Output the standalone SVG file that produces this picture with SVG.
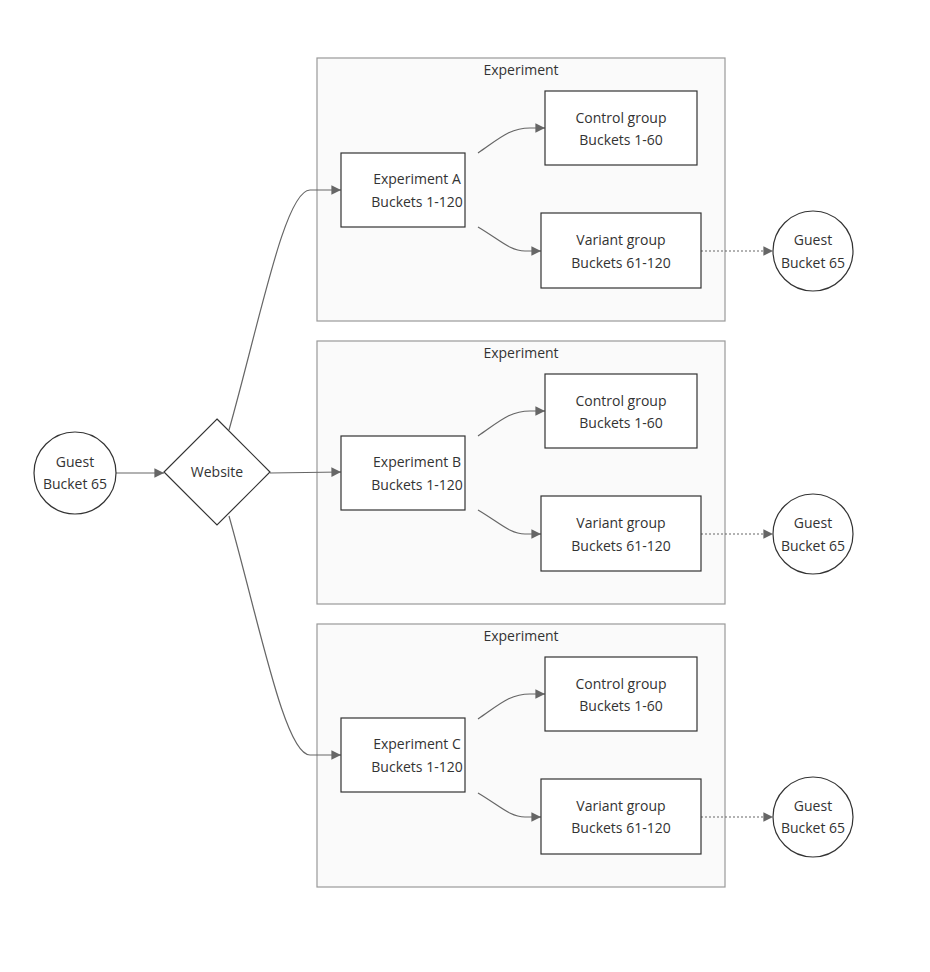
<svg xmlns="http://www.w3.org/2000/svg" width="930" height="972" viewBox="0 0 930 972">
<style>
text{font-family:"Open Sans","DejaVu Sans",sans-serif;font-size:14px;fill:#333;text-anchor:middle}
.cl{fill:#fafafa;stroke:#999;stroke-width:1.2}
.n{fill:#fff;stroke:#333;stroke-width:1.2}
.e{fill:none;stroke:#666;stroke-width:1.2;marker-end:url(#a)}
.d{stroke-dasharray:2,2}
</style>
<defs>
<marker id="a" viewBox="0 0 10 10" refX="10" refY="5" markerWidth="8" markerHeight="8" orient="auto"><path d="M0,0L10,5L0,10z" fill="#666"/></marker>
<g id="cluster">
<rect class="cl" x="317" y="58" width="408" height="263"/>
<text x="521" y="75">Experiment</text>
</g>
</defs>
<rect width="930" height="972" fill="#fff"/>
<g id="clusters">
<use href="#cluster"/>
<use href="#cluster" y="283"/>
<use href="#cluster" y="566"/>
</g>
<g id="connectors">
<path class="e" d="M116,473L164,473"/>
<path class="e" d="M270,473L341,472"/>
<path class="e" d="M229,430C260,320 285,190 310,190L341,190"/>
<path class="e" d="M229,516C260,626 285,755 310,755L341,755"/>
<g id="edgesA">
<path class="e" d="M478,153C500,138 510,128 530,128L545,128"/>
<path class="e" d="M478,227C500,240 510,251 525,251L541,251"/>
<path class="e d" d="M701,251L773,251"/>
</g>
<use href="#edgesA" y="283"/>
<use href="#edgesA" y="566"/>
</g>
<g id="guest0"><circle class="n" cx="75" cy="473" r="41"/><text x="75" y="467">Guest</text><text x="75" y="489">Bucket 65</text></g>
<g id="website"><path class="n" d="M217,419L270,472L217,525L164,472z"/><text x="217" y="477">Website</text></g>
<g id="expA"><rect class="n" x="341" y="153" width="124" height="74"/><text x="417" y="184">Experiment A</text><text x="417" y="207">Buckets 1-120</text></g>
<g id="ctrlA"><rect class="n" x="545" y="91" width="152" height="74"/><text x="621" y="123">Control group</text><text x="621" y="145">Buckets 1-60</text></g>
<g id="varA"><rect class="n" x="541" y="213" width="160" height="75"/><text x="621" y="245">Variant group</text><text x="621" y="268">Buckets 61-120</text></g>
<g id="guestA"><circle class="n" cx="813" cy="251" r="40"/><text x="813" y="245">Guest</text><text x="813" y="268">Bucket 65</text></g>
<g id="expB"><rect class="n" x="341" y="436" width="124" height="74"/><text x="417" y="467">Experiment B</text><text x="417" y="490">Buckets 1-120</text></g>
<g id="ctrlB"><rect class="n" x="545" y="374" width="152" height="74"/><text x="621" y="406">Control group</text><text x="621" y="428">Buckets 1-60</text></g>
<g id="varB"><rect class="n" x="541" y="496" width="160" height="75"/><text x="621" y="528">Variant group</text><text x="621" y="551">Buckets 61-120</text></g>
<g id="guestB"><circle class="n" cx="813" cy="534" r="40"/><text x="813" y="528">Guest</text><text x="813" y="551">Bucket 65</text></g>
<g id="expC"><rect class="n" x="341" y="718" width="124" height="74"/><text x="417" y="749">Experiment C</text><text x="417" y="772">Buckets 1-120</text></g>
<g id="ctrlC"><rect class="n" x="545" y="657" width="152" height="74"/><text x="621" y="689">Control group</text><text x="621" y="711">Buckets 1-60</text></g>
<g id="varC"><rect class="n" x="541" y="779" width="160" height="75"/><text x="621" y="811">Variant group</text><text x="621" y="833">Buckets 61-120</text></g>
<g id="guestC"><circle class="n" cx="813" cy="817" r="40"/><text x="813" y="811">Guest</text><text x="813" y="833">Bucket 65</text></g>
</svg>
